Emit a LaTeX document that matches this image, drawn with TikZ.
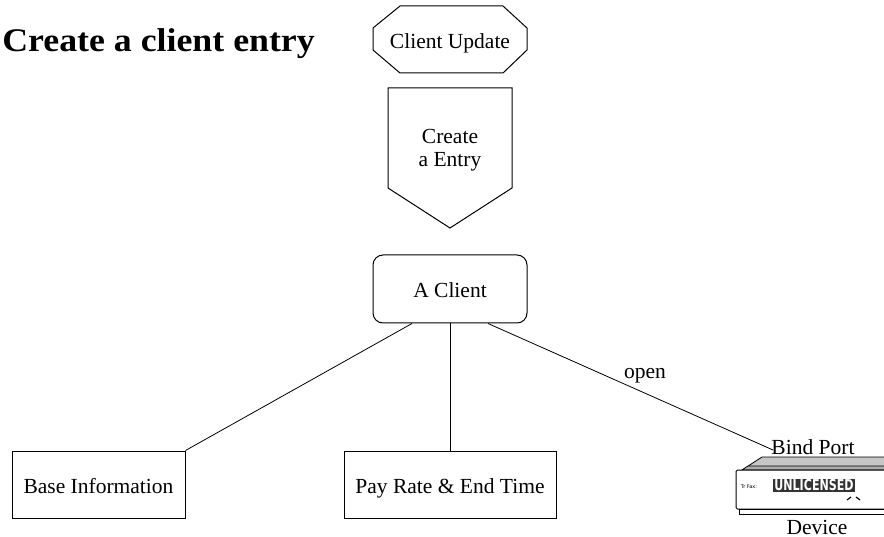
\documentclass[tikz,border=0pt]{standalone}
\usepackage{fontspec}
\usepackage{graphicx}
\setmainfont{Liberation Serif}
\newfontfamily\devfont{DejaVu Sans}
\usetikzlibrary{calc}

\tikzset{
  txt/.style={font=\fontsize{21.5}{23}\selectfont, inner sep=0pt, align=center,
              text height=18pt, text depth=0pt},
  shapeline/.style={line width=1pt},
  boxnode/.style={draw, line width=1pt, inner sep=0pt, txt},
  conn/.style={line width=0.8pt},
}

\begin{document}
\begin{tikzpicture}[x=1pt, y=-1pt]
  \useasboundingbox (0,0) rectangle (884,537);

  % heading
  \node[anchor=base east, inner sep=0pt,
        font=\fontsize{33}{36}\selectfont\bfseries] (title) at (315,52)
        {\scalebox{1.085}[1]{Create a client entry}};

  % octagon: Client Update
  \draw[shapeline] (400,6) -- (503,6) -- (527,28) -- (527,50) -- (503,73)
        -- (400,73) -- (373,50) -- (373,28) -- cycle;
  \node[txt] (upd) at (450,39.5) {Client Update};

  % pentagon: Create a Entry
  \draw[shapeline] (388,88) -- (512,88) -- (512,188) -- (450,228)
        -- (388,188) -- cycle;
  \node[txt] (entry) at (450,157.5) {Create\\a Entry};

  % main nodes
  \node[boxnode, rounded corners=10pt, minimum width=154pt, minimum height=68pt]
        (client) at (450,289) {A Client};
  \node[boxnode, minimum width=173pt, minimum height=67pt]
        (base) at (98.5,484.5) {Base Information};
  \node[boxnode, minimum width=212pt, minimum height=67pt]
        (pay) at (450,484.5) {Pay Rate \& End Time};

  % device
  \coordinate (bind) at (773,450);
  \node[txt] (bindlbl) at (813,445) {Bind Port};
  \node[txt] (devlbl) at (817,525) {Device};
  % top slab
  \draw[line width=0.8pt, fill=gray!45] (762,457) -- (890,457) -- (890,470)
        -- (742,470) -- cycle;
  \draw[line width=0.6pt, fill=gray!65] (748,466) -- (890,466) -- (890,470)
        -- (742,470) -- cycle;
  % front body and base
  \draw[line width=1pt, fill=white, rounded corners=1.5pt]
        (736,470) rectangle (892,509);
  \draw[line width=1pt, fill=white] (739,509) rectangle (892,514);
  \node[fill=black!80, text=white, inner xsep=1pt, inner ysep=1pt,
        font=\devfont\bfseries\fontsize{15}{15}\selectfont] (lic) at (814,485.5)
        {\scalebox{0.74}[1]{UNLICENSED}};
  \node[font=\devfont\fontsize{5}{5}\selectfont, inner sep=0pt] (fax) at (749,487) {Tr Fax:};
  \draw[line width=1.2pt] (847,500) -- (851,497);
  \draw[line width=1.2pt] (856,497) -- (860,500);

  % connectors
  \draw[conn] ($(client.south)+(-38,0)$) -- (base.north east);
  \draw[conn] (client.south) -- (pay.north);
  \draw[conn] ($(client.south)+(38,0)$) -- (bind);
  \node[txt] (open) at (645,369) {open};
\end{tikzpicture}
\end{document}
